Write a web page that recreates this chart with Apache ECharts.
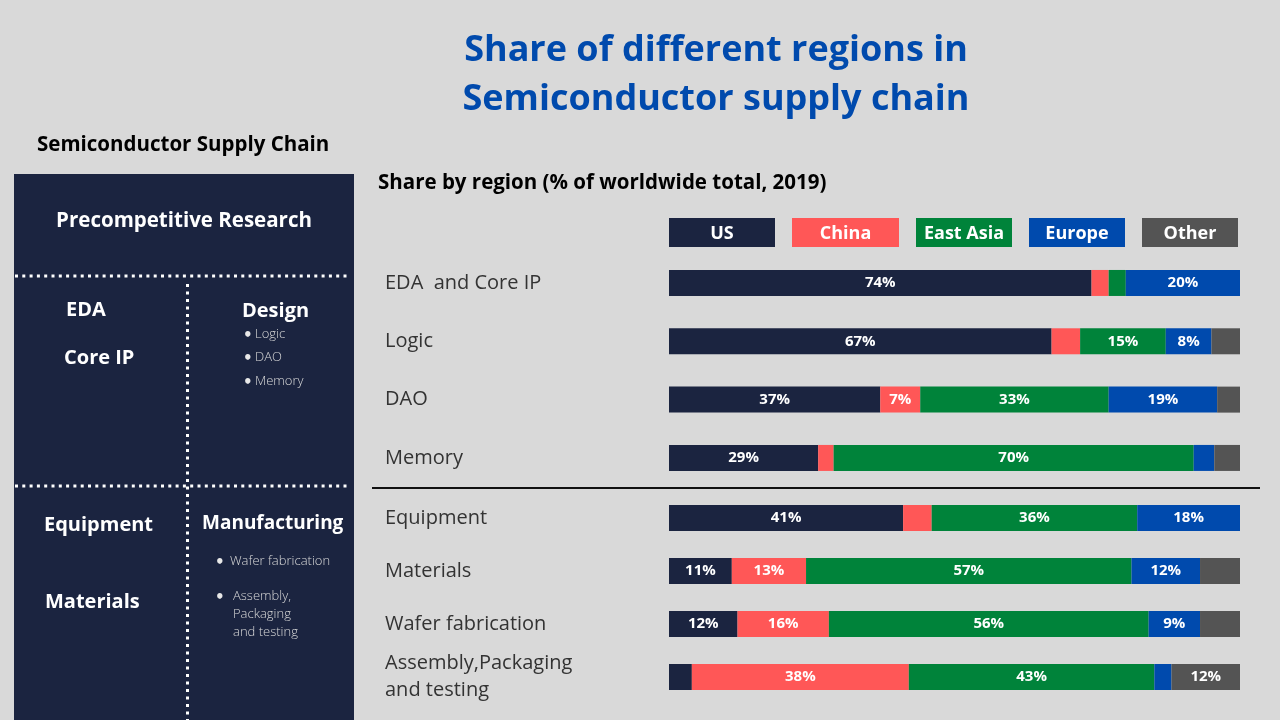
<!DOCTYPE html>
<html>
<head>
<meta charset="utf-8">
<script src="https://cdn.jsdelivr.net/npm/echarts@6/dist/echarts.min.js"></script>
<style>
html,body{margin:0;padding:0;background:#d9d9d9;}
#chart{width:1280px;height:720px;}
</style>
</head>
<body>
<div id="chart"></div>
<script>
// ---- data ----
const categoriesTop = ['EDA  and Core IP', 'Logic', 'DAO', 'Memory'];
const categoriesBottom = ['Equipment', 'Materials', 'Wafer fabrication', 'Assembly,Packaging\nand testing'];
const regions = ['US', 'China', 'East Asia', 'Europe', 'Other'];
// values by row (top 4 rows then bottom 4 rows), % of worldwide total, 2019
const usValues       = [74, 67, 37, 29, 41, 11, 12, 4];
const chinaValues    = [3, 5, 7, 3, 5, 13, 16, 38];
const eastAsiaValues = [3, 15, 33, 70, 36, 57, 56, 43];
const europeValues   = [20, 8, 19, 4, 18, 12, 9, 3];
const otherValues    = [0, 5, 4, 5, 0, 7, 7, 12];

// ---- styling ----
const regionColors = ['#1b2440', '#ff5757', '#00833a', '#004aad', '#545454'];
const labelMin = [7, 7, 7, 7, 10];
const legendWidths = [106, 107, 96, 96, 96];
const navy = '#1b2440';

const allValues = [usValues, chinaValues, eastAsiaValues, europeValues, otherValues];
const rowTotals = usValues.map((_, i) => allValues.reduce((s, arr) => s + arr[i], 0));

const series = [];
[0, 1].forEach(g => {
  regions.forEach((name, r) => {
    const vals = allValues[r].slice(g * 4, g * 4 + 4);
    series.push({
      name: name,
      type: 'bar',
      stack: 'total' + g,
      xAxisIndex: g,
      yAxisIndex: g,
      barWidth: 26,
      itemStyle: { color: regionColors[r] },
      label: {
        show: true,
        position: 'inside',
        color: '#ffffff',
        fontFamily: 'Open Sans',
        fontWeight: 'bold',
        fontSize: 15,
        formatter: p => (p.data.raw >= labelMin[r] ? p.data.raw + '%' : '')
      },
      data: vals.map((v, i) => ({ value: v / rowTotals[g * 4 + i] * 100, raw: v }))
    });
  });
});

const rich = {};
regions.forEach((n, i) => {
  rich['k' + i] = {
    width: legendWidths[i], height: 27, lineHeight: 27,
    backgroundColor: regionColors[i], color: '#ffffff', align: 'center',
    fontFamily: 'Open Sans', fontWeight: 'bold', fontSize: 18, padding: [2, 0, 0, 0]
  };
});

const yAxisCommon = {
  type: 'category',
  inverse: true,
  axisLine: { show: false },
  axisTick: { show: false },
  axisLabel: {
    align: 'left', margin: 284, fontSize: 20, color: '#333333',
    fontFamily: 'Open Sans', lineHeight: 27
  }
};

const bulletStyle = { fill: '#d8d8d8', font: '300 13px "Open Sans"' };
const bulletDot = { fill: '#e8e8e8', font: 'bold 15px "DejaVu Sans"' };
function txt(x, y, text, style, align) {
  return { type: 'text', x: x, y: y, style: Object.assign({ text: text, textAlign: align || 'left', textVerticalAlign: 'middle' }, style) };
}
const boldW = { fill: '#ffffff', font: 'bold 20px "Open Sans"' };

const chart = echarts.init(document.getElementById('chart'), null, { renderer: 'canvas' });
chart.setOption({
  backgroundColor: '#d9d9d9',
  animation: false,
  title: {
    text: 'Share of different regions in\nSemiconductor supply chain',
    left: 716, top: 26, padding: 0, textAlign: 'center',
    textStyle: { color: '#004aad', fontFamily: 'Open Sans', fontWeight: 'bold', fontSize: 36, lineHeight: 49 }
  },
  legend: {
    left: 664, top: 218, padding: 0, itemGap: 12, icon: 'none', itemWidth: 0, itemHeight: 27,
    selectedMode: false,
    data: regions,
    formatter: name => '{k' + regions.indexOf(name) + '|' + name + '}',
    textStyle: { rich: rich }
  },
  grid: [
    { left: 669, right: 40, top: 253.8, height: 233.3 },
    { left: 669, right: 40, top: 491.5, height: 212 }
  ],
  xAxis: [
    { type: 'value', gridIndex: 0, min: 0, max: 100, show: false },
    { type: 'value', gridIndex: 1, min: 0, max: 100, show: false }
  ],
  yAxis: [
    Object.assign({ gridIndex: 0, data: categoriesTop }, yAxisCommon),
    Object.assign({ gridIndex: 1, data: categoriesBottom }, yAxisCommon)
  ],
  series: series,
  graphic: [
    { type: 'rect', shape: { x: 14, y: 174, width: 340, height: 546 }, style: { fill: navy }, z: 0 },
    { type: 'line', shape: { x1: 15, y1: 276, x2: 350, y2: 276 }, style: { stroke: '#ffffff', lineWidth: 3, lineDash: [3, 4.3] } },
    { type: 'line', shape: { x1: 15, y1: 486, x2: 350, y2: 486 }, style: { stroke: '#ffffff', lineWidth: 3, lineDash: [3, 4.3] } },
    { type: 'line', shape: { x1: 187.5, y1: 284, x2: 187.5, y2: 720 }, style: { stroke: '#ffffff', lineWidth: 3, lineDash: [3, 4.5] } },
    { type: 'line', shape: { x1: 372, y1: 488, x2: 1260, y2: 488 }, style: { stroke: '#111111', lineWidth: 2 } },
    txt(37, 145, 'Semiconductor Supply Chain', { fill: '#000000', font: 'bold 20.5px "Open Sans"' }),
    txt(378, 183, 'Share by region (% of worldwide total, 2019)', { fill: '#000000', font: 'bold 20.5px "Open Sans"' }),
    txt(184, 221, 'Precompetitive Research', { fill: '#ffffff', font: 'bold 20.5px "Open Sans"' }, 'center'),
    txt(66, 310, 'EDA', boldW),
    txt(64, 358, 'Core IP', boldW),
    txt(242, 311, 'Design', boldW),
    txt(243, 336, '•', bulletDot), txt(255, 334, 'Logic', bulletStyle),
    txt(243, 359, '•', bulletDot), txt(255, 357, 'DAO', bulletStyle),
    txt(243, 383, '•', bulletDot), txt(255, 381, 'Memory', bulletStyle),
    txt(44, 525, 'Equipment', boldW),
    txt(202, 524, 'Manufacturing', { fill: '#ffffff', font: 'bold 19px "Open Sans"' }),
    txt(45, 602, 'Materials', boldW),
    txt(215, 563, '•', bulletDot), txt(230, 561, 'Wafer fabrication', bulletStyle),
    txt(215, 598, '•', bulletDot), txt(233, 596, 'Assembly,', bulletStyle),
    txt(233, 614, 'Packaging', bulletStyle),
    txt(233, 632, 'and testing', bulletStyle)
  ]
});
</script>
</body>
</html>
